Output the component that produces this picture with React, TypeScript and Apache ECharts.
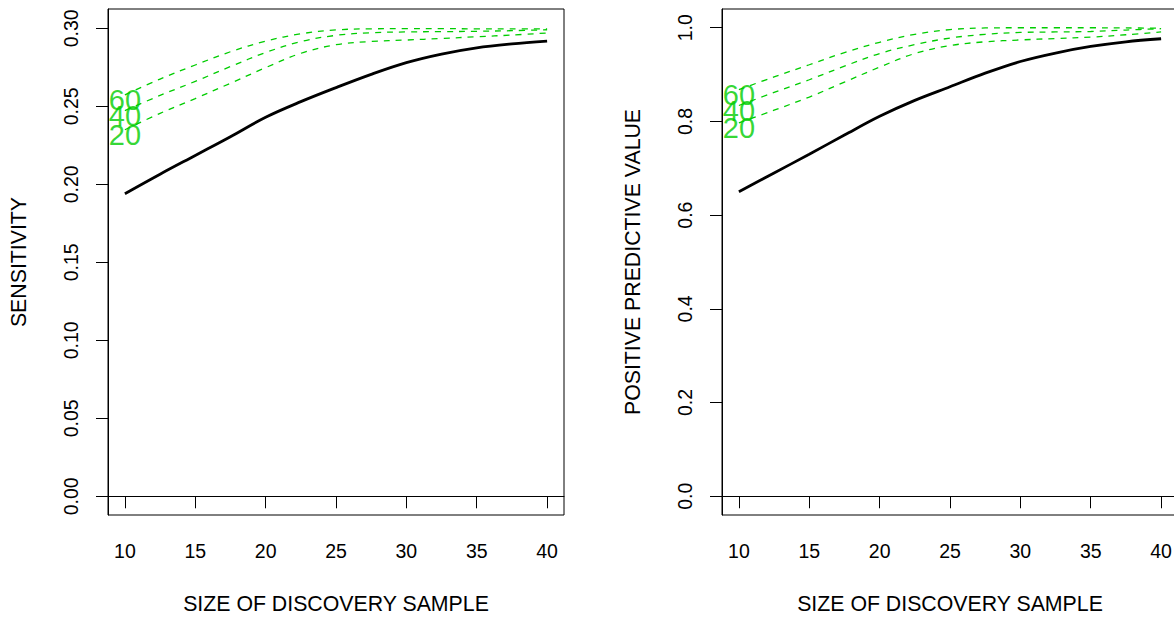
import React, { useEffect, useRef } from "react";
import * as echarts from "echarts";

const xValues = [10, 12.5, 15, 17.5, 20, 22.5, 25, 27.5, 30, 32.5, 35, 37.5, 40];
const xTicks = [10, 15, 20, 25, 30, 35, 40];
const sensTicks = [0, 0.05, 0.1, 0.15, 0.2, 0.25, 0.3];
const ppvTicks = [0, 0.2, 0.4, 0.6, 0.8, 1.0];
const curveLabels = ["60", "40", "20"];

const sensBlack = [0.194, 0.2065, 0.2185, 0.2305, 0.243, 0.253, 0.262, 0.2705, 0.278, 0.2835, 0.2875, 0.29, 0.2918];
const sens60 = [0.2574, 0.2675, 0.2765, 0.285, 0.2918, 0.2965, 0.299, 0.2997, 0.2998, 0.2998, 0.2997, 0.2997, 0.2996];
const sens40 = [0.2473, 0.257, 0.266, 0.2755, 0.2845, 0.2915, 0.2955, 0.2972, 0.2977, 0.2979, 0.2981, 0.2985, 0.2991];
const sens20 = [0.235, 0.2455, 0.255, 0.2648, 0.2748, 0.284, 0.2895, 0.2916, 0.2925, 0.2935, 0.2946, 0.2957, 0.297];

const ppvBlack = [0.65, 0.69, 0.73, 0.771, 0.811, 0.845, 0.874, 0.903, 0.928, 0.946, 0.96, 0.97, 0.9765];
const ppv60 = [0.868, 0.895, 0.921, 0.947, 0.969, 0.986, 0.996, 0.9995, 1.0, 1.0, 1.0, 0.9995, 0.9993];
const ppv40 = [0.834, 0.862, 0.889, 0.918, 0.945, 0.964, 0.978, 0.986, 0.99, 0.991, 0.992, 0.995, 0.998];
const ppv20 = [0.797, 0.824, 0.852, 0.884, 0.916, 0.945, 0.962, 0.97, 0.974, 0.977, 0.98, 0.985, 0.991];

const FONT = "'Liberation Sans', Arial, Helvetica, sans-serif";
const GREEN = "#00CD00";

function pairs(ys: number[]) {
  return xValues.map((x, i) => [x, ys[i]]);
}

export default function App() {
  const ref = useRef<HTMLDivElement>(null);
  useEffect(() => {
    if (!ref.current) return;
    const chart = echarts.init(ref.current, null, { renderer: "svg" });

    const gridBase = {
      top: 9,
      width: 456,
      height: 506,
      show: true,
      borderColor: "#000",
      borderWidth: 1,
      backgroundColor: "transparent",
      containLabel: false,
      outerBoundsMode: "none",
    };

    const xAxisBase = (gridIndex: number) => ({
      type: "value",
      gridIndex,
      min: 8.8,
      max: 41.2,
      axisLine: { show: true, lineStyle: { color: "#000", width: 1 } },
      axisTick: { show: true, length: 12, customValues: xTicks, lineStyle: { color: "#000", width: 1 } },
      axisLabel: {
        customValues: xTicks,
        margin: 26,
        fontSize: 19.5,
        color: "#000",
        fontFamily: FONT,
        showMinLabel: true,
        showMaxLabel: true,
      },
      splitLine: { show: false },
      name: "SIZE OF DISCOVERY SAMPLE",
      nameLocation: "middle",
      nameGap: 78,
      nameTextStyle: { fontSize: 21.3, color: "#000", fontFamily: FONT },
    });

    const yAxisBase = (gridIndex: number, min: number, max: number, ticks: number[], digits: number, name: string) => ({
      type: "value",
      gridIndex,
      min,
      max,
      axisLine: { show: true, lineStyle: { color: "#000", width: 1 } },
      axisTick: { show: true, length: 12, customValues: ticks, lineStyle: { color: "#000", width: 1 } },
      axisLabel: {
        customValues: ticks,
        rotate: 90,
        margin: 27,
        fontSize: 19.5,
        color: "#000",
        fontFamily: FONT,
        formatter: (v: number) => v.toFixed(digits),
        showMinLabel: true,
        showMaxLabel: true,
      },
      splitLine: { show: false },
      name,
      nameLocation: "middle",
      nameGap: 79,
      nameTextStyle: { fontSize: 21.3, color: "#000", fontFamily: FONT },
    });

    const blackLine = (data: number[], idx: number) => ({
      type: "line",
      xAxisIndex: idx,
      yAxisIndex: idx,
      data: pairs(data),
      showSymbol: false,
      smooth: 0.35,
      lineStyle: { color: "#000", width: 2.8 },
      z: 3,
    });

    const greenLine = (data: number[], idx: number) => ({
      type: "line",
      xAxisIndex: idx,
      yAxisIndex: idx,
      data: pairs(data),
      showSymbol: false,
      smooth: 0.35,
      lineStyle: { color: GREEN, width: 1.3, type: [6, 6] },
      z: 3,
    });

    const labelSeries = (sets: number[][], idx: number) => ({
      type: "scatter",
      xAxisIndex: idx,
      yAxisIndex: idx,
      symbolSize: 0,
      data: sets.map((s, i) => ({ value: [xValues[0], s[0]], name: curveLabels[i] })),
      label: {
        show: true,
        position: "inside",
        formatter: (p: any) => p.name,
        fontSize: 29,
        color: GREEN,
        fontFamily: FONT,
        offset: [0, 5],
      },
      z: 2,
      silent: true,
    });

    chart.setOption({
      animation: false,
      backgroundColor: "#fff",
      grid: [
        { ...gridBase, left: 108 },
        { ...gridBase, left: 722 },
      ],
      xAxis: [xAxisBase(0), xAxisBase(1)],
      yAxis: [
        yAxisBase(0, -0.012, 0.3124, sensTicks, 2, "SENSITIVITY"),
        yAxisBase(1, -0.04, 1.04, ppvTicks, 1, "POSITIVE PREDICTIVE VALUE"),
      ],
      series: [
        blackLine(sensBlack, 0),
        greenLine(sens60, 0),
        greenLine(sens40, 0),
        greenLine(sens20, 0),
        labelSeries([sens60, sens40, sens20], 0),
        blackLine(ppvBlack, 1),
        greenLine(ppv60, 1),
        greenLine(ppv40, 1),
        greenLine(ppv20, 1),
        labelSeries([ppv60, ppv40, ppv20], 1),
      ],
    });
    return () => chart.dispose();
  }, []);

  return (
    <div style={{ position: "absolute", left: 0, top: 0, width: 1174, height: 620, overflow: "hidden", background: "#fff" }}>
      <div ref={ref} style={{ width: 1190, height: 620 }} />
    </div>
  );
}
